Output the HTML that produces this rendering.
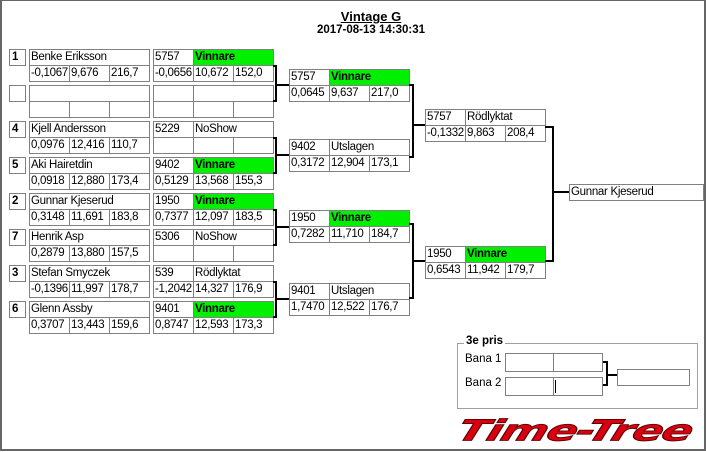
<!DOCTYPE html>
<html><head><meta charset="utf-8"><style>
*{margin:0;padding:0;box-sizing:border-box}
body{width:706px;height:452px;background:#fff;position:relative;overflow:hidden;font-family:"Liberation Sans",sans-serif;font-size:11.5px;color:#000}
.f{position:absolute;left:0;top:0;width:706px;height:451px;border-left:2px solid #666;border-right:2px solid #666;border-top:1px solid #666;border-bottom:2px solid #666}
.c{position:absolute;height:17px;border:1px solid #808080;line-height:15px;padding-left:1px;white-space:nowrap;overflow:hidden;background:#fff;letter-spacing:-0.3px}
.w{width:41px}.n{width:121px}.s{width:81px}
.g{background:#00f000;font-weight:bold}
.sd{position:absolute;width:17px;height:17px;border:1px solid #808080;font-weight:bold;line-height:15px;padding-left:2px}
.v{position:absolute;width:2px;background:#000}
.h{position:absolute;height:2px;background:#000}
.t{position:absolute;width:706px;text-align:center;font-weight:bold}
</style></head><body>
<div class="f"></div>
<div class="t" style="top:9px;left:18px;font-size:13px;text-decoration:underline">Vintage G</div>
<div class="t" style="top:24px;left:18px">2017-08-13 14:30:31</div>

<div class="sd" style="left:9px;top:49px">1</div>
<div class="sd" style="left:9px;top:85px"></div>
<div class="sd" style="left:9px;top:121px">4</div>
<div class="sd" style="left:9px;top:157px">5</div>
<div class="sd" style="left:9px;top:193px">2</div>
<div class="sd" style="left:9px;top:229px">7</div>
<div class="sd" style="left:9px;top:265px">3</div>
<div class="sd" style="left:9px;top:301px">6</div>

<div class="c n" style="left:29px;top:49px">Benke Eriksson</div>
<div class="c w" style="left:29px;top:65px">-0,1067</div><div class="c w" style="left:69px;top:65px">9,676</div><div class="c w" style="left:109px;top:65px">216,7</div>
<div class="c n" style="left:29px;top:85px"></div>
<div class="c w" style="left:29px;top:101px"></div><div class="c w" style="left:69px;top:101px"></div><div class="c w" style="left:109px;top:101px"></div>
<div class="c n" style="left:29px;top:121px">Kjell Andersson</div>
<div class="c w" style="left:29px;top:137px">0,0976</div><div class="c w" style="left:69px;top:137px">12,416</div><div class="c w" style="left:109px;top:137px">110,7</div>
<div class="c n" style="left:29px;top:157px">Aki Hairetdin</div>
<div class="c w" style="left:29px;top:173px">0,0918</div><div class="c w" style="left:69px;top:173px">12,880</div><div class="c w" style="left:109px;top:173px">173,4</div>
<div class="c n" style="left:29px;top:193px">Gunnar Kjeserud</div>
<div class="c w" style="left:29px;top:209px">0,3148</div><div class="c w" style="left:69px;top:209px">11,691</div><div class="c w" style="left:109px;top:209px">183,8</div>
<div class="c n" style="left:29px;top:229px">Henrik Asp</div>
<div class="c w" style="left:29px;top:245px">0,2879</div><div class="c w" style="left:69px;top:245px">13,880</div><div class="c w" style="left:109px;top:245px">157,5</div>
<div class="c n" style="left:29px;top:265px">Stefan Smyczek</div>
<div class="c w" style="left:29px;top:281px">-0,1396</div><div class="c w" style="left:69px;top:281px">11,997</div><div class="c w" style="left:109px;top:281px">178,7</div>
<div class="c n" style="left:29px;top:301px">Glenn Assby</div>
<div class="c w" style="left:29px;top:317px">0,3707</div><div class="c w" style="left:69px;top:317px">13,443</div><div class="c w" style="left:109px;top:317px">159,6</div>

<div class="c w" style="left:153px;top:49px">5757</div><div class="c s g" style="left:193px;top:49px">Vinnare</div>
<div class="c w" style="left:153px;top:65px">-0,0656</div><div class="c w" style="left:193px;top:65px">10,672</div><div class="c w" style="left:233px;top:65px">152,0</div>
<div class="c w" style="left:153px;top:85px"></div><div class="c s" style="left:193px;top:85px"></div>
<div class="c w" style="left:153px;top:101px"></div><div class="c w" style="left:193px;top:101px"></div><div class="c w" style="left:233px;top:101px"></div>
<div class="c w" style="left:153px;top:121px">5229</div><div class="c s" style="left:193px;top:121px">NoShow</div>
<div class="c w" style="left:153px;top:137px"></div><div class="c w" style="left:193px;top:137px"></div><div class="c w" style="left:233px;top:137px"></div>
<div class="c w" style="left:153px;top:157px">9402</div><div class="c s g" style="left:193px;top:157px">Vinnare</div>
<div class="c w" style="left:153px;top:173px">0,5129</div><div class="c w" style="left:193px;top:173px">13,568</div><div class="c w" style="left:233px;top:173px">155,3</div>
<div class="c w" style="left:153px;top:193px">1950</div><div class="c s g" style="left:193px;top:193px">Vinnare</div>
<div class="c w" style="left:153px;top:209px">0,7377</div><div class="c w" style="left:193px;top:209px">12,097</div><div class="c w" style="left:233px;top:209px">183,5</div>
<div class="c w" style="left:153px;top:229px">5306</div><div class="c s" style="left:193px;top:229px">NoShow</div>
<div class="c w" style="left:153px;top:245px"></div><div class="c w" style="left:193px;top:245px"></div><div class="c w" style="left:233px;top:245px"></div>
<div class="c w" style="left:153px;top:265px">539</div><div class="c s" style="left:193px;top:265px">Rödlyktat</div>
<div class="c w" style="left:153px;top:281px">-1,2042</div><div class="c w" style="left:193px;top:281px">14,327</div><div class="c w" style="left:233px;top:281px">176,9</div>
<div class="c w" style="left:153px;top:301px">9401</div><div class="c s g" style="left:193px;top:301px">Vinnare</div>
<div class="c w" style="left:153px;top:317px">0,8747</div><div class="c w" style="left:193px;top:317px">12,593</div><div class="c w" style="left:233px;top:317px">173,3</div>

<div class="h" style="left:273px;top:65px;width:4px"></div><div class="v" style="left:275px;top:65px;height:37px"></div><div class="h" style="left:273px;top:100px;width:4px"></div><div class="h" style="left:275px;top:84px;width:14px"></div>
<div class="h" style="left:273px;top:137px;width:4px"></div><div class="v" style="left:275px;top:137px;height:37px"></div><div class="h" style="left:273px;top:172px;width:4px"></div><div class="h" style="left:275px;top:154px;width:14px"></div>
<div class="h" style="left:273px;top:209px;width:4px"></div><div class="v" style="left:275px;top:209px;height:37px"></div><div class="h" style="left:273px;top:244px;width:4px"></div><div class="h" style="left:275px;top:226px;width:14px"></div>
<div class="h" style="left:273px;top:281px;width:4px"></div><div class="v" style="left:275px;top:281px;height:37px"></div><div class="h" style="left:273px;top:316px;width:4px"></div><div class="h" style="left:275px;top:298px;width:14px"></div>

<div class="c w" style="left:289px;top:69px">5757</div><div class="c s g" style="left:329px;top:69px">Vinnare</div>
<div class="c w" style="left:289px;top:85px">0,0645</div><div class="c w" style="left:329px;top:85px">9,637</div><div class="c w" style="left:369px;top:85px">217,0</div>
<div class="c w" style="left:289px;top:139px">9402</div><div class="c s" style="left:329px;top:139px">Utslagen</div>
<div class="c w" style="left:289px;top:155px">0,3172</div><div class="c w" style="left:329px;top:155px">12,904</div><div class="c w" style="left:369px;top:155px">173,1</div>
<div class="c w" style="left:289px;top:210px">1950</div><div class="c s g" style="left:329px;top:210px">Vinnare</div>
<div class="c w" style="left:289px;top:226px">0,7282</div><div class="c w" style="left:329px;top:226px">11,710</div><div class="c w" style="left:369px;top:226px">184,7</div>
<div class="c w" style="left:289px;top:283px">9401</div><div class="c s" style="left:329px;top:283px">Utslagen</div>
<div class="c w" style="left:289px;top:299px">1,7470</div><div class="c w" style="left:329px;top:299px">12,522</div><div class="c w" style="left:369px;top:299px">176,7</div>

<div class="h" style="left:409px;top:84px;width:5px"></div><div class="v" style="left:412px;top:84px;height:74px"></div><div class="h" style="left:409px;top:156px;width:5px"></div><div class="h" style="left:412px;top:124px;width:13px"></div>
<div class="h" style="left:409px;top:223px;width:5px"></div><div class="v" style="left:412px;top:223px;height:76px"></div><div class="h" style="left:409px;top:297px;width:5px"></div><div class="h" style="left:412px;top:260px;width:13px"></div>

<div class="c w" style="left:425px;top:109px">5757</div><div class="c s" style="left:465px;top:109px">Rödlyktat</div>
<div class="c w" style="left:425px;top:125px">-0,1332</div><div class="c w" style="left:465px;top:125px">9,863</div><div class="c w" style="left:505px;top:125px">208,4</div>
<div class="c w" style="left:425px;top:246px">1950</div><div class="c s g" style="left:465px;top:246px">Vinnare</div>
<div class="c w" style="left:425px;top:262px">0,6543</div><div class="c w" style="left:465px;top:262px">11,942</div><div class="c w" style="left:505px;top:262px">179,7</div>

<div class="h" style="left:545px;top:126px;width:9px"></div><div class="v" style="left:552px;top:126px;height:136px"></div><div class="h" style="left:545px;top:260px;width:9px"></div><div class="h" style="left:552px;top:191px;width:17px"></div>
<div class="c" style="left:569px;top:184px;width:135px">Gunnar Kjeserud</div>

<div style="position:absolute;left:457px;top:343px;width:241px;height:66px;border:1px solid #a0a0a0"></div>
<div style="position:absolute;left:464px;top:335px;background:#fff;padding:0 2px;font-weight:bold">3e pris</div>
<div style="position:absolute;left:465px;top:353px">Bana 1</div>
<div style="position:absolute;left:465px;top:377px">Bana 2</div>
<div class="c" style="left:505px;top:353px;width:50px;height:19px"></div><div class="c" style="left:553px;top:353px;width:50px;height:19px"></div>
<div class="c" style="left:505px;top:377px;width:50px;height:19px"></div><div class="c" style="left:553px;top:377px;width:50px;height:19px"></div>
<div style="position:absolute;left:555px;top:380px;width:1px;height:13px;background:#000"></div>
<div class="h" style="left:603px;top:361px;width:5px"></div><div class="v" style="left:606px;top:361px;height:25px"></div><div class="h" style="left:603px;top:384px;width:5px"></div><div class="h" style="left:606px;top:374px;width:12px"></div>
<div class="c" style="left:617px;top:369px;width:73px"></div>

<div style="position:absolute;left:458px;top:413px;font-family:'DejaVu Sans','Liberation Sans',sans-serif;font-weight:bold;font-size:34px;line-height:36px;color:#d80010;font-style:italic;transform:skewX(-18deg) scale(1.33,0.85);transform-origin:left center;-webkit-text-stroke:1px #500;letter-spacing:-1px;white-space:nowrap">Time-Tree</div>
</body></html>
